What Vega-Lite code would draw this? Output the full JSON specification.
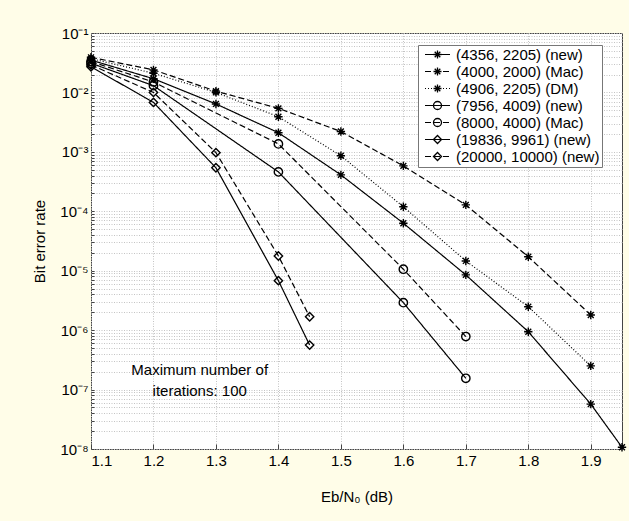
{
  "$schema": "https://vega.github.io/schema/vega-lite/v6.json",
  "width": 531,
  "height": 416,
  "autosize": {"type": "none"},
  "padding": {"left": 91, "top": 33, "right": 7, "bottom": 72},
  "background": "#fffde8",
  "config": {
    "view": {"fill": "white", "stroke": "#444", "strokeWidth": 1},
    "font": "Liberation Sans",
    "axis": {
      "labelFont": "Liberation Sans",
      "labelFontSize": 15,
      "labelColor": "black",
      "titleFont": "Liberation Sans",
      "titleFontSize": 15,
      "titleFontWeight": "normal",
      "titleColor": "black",
      "domain": false,
      "tickColor": "#444",
      "tickSize": -5,
      "gridColor": "#c4c4c4",
      "gridDash": [1, 1.5],
      "gridWidth": 1
    }
  },
  "data": {
    "values": [
      {"s": "(4356, 2205) (new)", "x": 1.1, "y": 0.035},
      {"s": "(4356, 2205) (new)", "x": 1.2, "y": 0.017},
      {"s": "(4356, 2205) (new)", "x": 1.3, "y": 0.0064},
      {"s": "(4356, 2205) (new)", "x": 1.4, "y": 0.0021},
      {"s": "(4356, 2205) (new)", "x": 1.5, "y": 0.00041},
      {"s": "(4356, 2205) (new)", "x": 1.6, "y": 0.000063},
      {"s": "(4356, 2205) (new)", "x": 1.7, "y": 0.0000085},
      {"s": "(4356, 2205) (new)", "x": 1.8, "y": 9.4e-7},
      {"s": "(4356, 2205) (new)", "x": 1.9, "y": 5.7e-8},
      {"s": "(4356, 2205) (new)", "x": 1.95, "y": 1.07e-8},
      {"s": "(4000, 2000) (Mac)", "x": 1.1, "y": 0.039},
      {"s": "(4000, 2000) (Mac)", "x": 1.2, "y": 0.024},
      {"s": "(4000, 2000) (Mac)", "x": 1.3, "y": 0.0105},
      {"s": "(4000, 2000) (Mac)", "x": 1.4, "y": 0.0054},
      {"s": "(4000, 2000) (Mac)", "x": 1.5, "y": 0.0022},
      {"s": "(4000, 2000) (Mac)", "x": 1.6, "y": 0.00058},
      {"s": "(4000, 2000) (Mac)", "x": 1.7, "y": 0.000128},
      {"s": "(4000, 2000) (Mac)", "x": 1.8, "y": 0.0000172},
      {"s": "(4000, 2000) (Mac)", "x": 1.9, "y": 0.0000018},
      {"s": "(4906, 2205) (DM)", "x": 1.1, "y": 0.037},
      {"s": "(4906, 2205) (DM)", "x": 1.2, "y": 0.021},
      {"s": "(4906, 2205) (DM)", "x": 1.3, "y": 0.01},
      {"s": "(4906, 2205) (DM)", "x": 1.4, "y": 0.0039},
      {"s": "(4906, 2205) (DM)", "x": 1.5, "y": 0.00086},
      {"s": "(4906, 2205) (DM)", "x": 1.6, "y": 0.000119},
      {"s": "(4906, 2205) (DM)", "x": 1.7, "y": 0.0000146},
      {"s": "(4906, 2205) (DM)", "x": 1.8, "y": 0.00000248},
      {"s": "(4906, 2205) (DM)", "x": 1.9, "y": 2.5e-7},
      {"s": "(7956, 4009) (new)", "x": 1.1, "y": 0.031},
      {"s": "(7956, 4009) (new)", "x": 1.2, "y": 0.013},
      {"s": "(7956, 4009) (new)", "x": 1.4, "y": 0.00046},
      {"s": "(7956, 4009) (new)", "x": 1.6, "y": 0.0000029},
      {"s": "(7956, 4009) (new)", "x": 1.7, "y": 1.55e-7},
      {"s": "(8000, 4000) (Mac)", "x": 1.1, "y": 0.033},
      {"s": "(8000, 4000) (Mac)", "x": 1.2, "y": 0.015},
      {"s": "(8000, 4000) (Mac)", "x": 1.4, "y": 0.00136},
      {"s": "(8000, 4000) (Mac)", "x": 1.6, "y": 0.0000106},
      {"s": "(8000, 4000) (Mac)", "x": 1.7, "y": 7.8e-7},
      {"s": "(19836, 9961) (new)", "x": 1.1, "y": 0.027},
      {"s": "(19836, 9961) (new)", "x": 1.2, "y": 0.0068},
      {"s": "(19836, 9961) (new)", "x": 1.3, "y": 0.00054},
      {"s": "(19836, 9961) (new)", "x": 1.4, "y": 0.0000068},
      {"s": "(19836, 9961) (new)", "x": 1.45, "y": 5.6e-7},
      {"s": "(20000, 10000) (new)", "x": 1.1, "y": 0.029},
      {"s": "(20000, 10000) (new)", "x": 1.2, "y": 0.01},
      {"s": "(20000, 10000) (new)", "x": 1.3, "y": 0.00097},
      {"s": "(20000, 10000) (new)", "x": 1.4, "y": 0.0000177},
      {"s": "(20000, 10000) (new)", "x": 1.45, "y": 0.00000168}
    ]
  },
  "encoding": {
    "x": {
      "field": "x",
      "type": "quantitative",
      "scale": {"domain": [1.1, 1.95], "nice": false, "zero": false},
      "axis": {
        "title": "Eb/N₀ (dB)",
        "values": [1.1, 1.2, 1.3, 1.4, 1.5, 1.6, 1.7, 1.8, 1.9],
        "format": ".1f",
        "labelPadding": 9,
        "titlePadding": 21,
        "labelOverlap": false
      }
    },
    "y": {
      "field": "y",
      "type": "quantitative",
      "scale": {"type": "log", "domain": [1e-8, 0.1], "nice": false},
      "axis": {
        "title": "Bit error rate",
        "values": [1e-8, 2e-8, 3e-8, 4e-8, 5e-8, 6e-8, 7e-8, 8e-8, 9e-8,
                   1e-7, 2e-7, 3e-7, 4e-7, 5e-7, 6e-7, 7e-7, 8e-7, 9e-7,
                   1e-6, 2e-6, 3e-6, 4e-6, 5e-6, 6e-6, 7e-6, 8e-6, 9e-6,
                   1e-5, 2e-5, 3e-5, 4e-5, 5e-5, 6e-5, 7e-5, 8e-5, 9e-5,
                   1e-4, 2e-4, 3e-4, 4e-4, 5e-4, 6e-4, 7e-4, 8e-4, 9e-4,
                   1e-3, 2e-3, 3e-3, 4e-3, 5e-3, 6e-3, 7e-3, 8e-3, 9e-3,
                   1e-2, 2e-2, 3e-2, 4e-2, 5e-2, 6e-2, 7e-2, 8e-2, 9e-2, 1e-1],
        "labelExpr": "abs(log(datum.value)/LN10 - round(log(datum.value)/LN10)) < 0.001 ? '10⁻' + ['⁰','¹','²','³','⁴','⁵','⁶','⁷','⁸','⁹'][-round(log(datum.value)/LN10)] : ''",
        "labelOverlap": false,
        "labelBound": false,
        "labelPadding": 6,
        "titlePadding": 12,
        "tickSize": -3
      }
    }
  },
  "layer": [
    {
      "mark": {"type": "line", "color": "black", "strokeWidth": 1.2},
      "encoding": {
        "strokeDash": {
          "field": "s",
          "type": "nominal",
          "scale": {
            "domain": ["(4356, 2205) (new)", "(4000, 2000) (Mac)", "(4906, 2205) (DM)", "(7956, 4009) (new)", "(8000, 4000) (Mac)", "(19836, 9961) (new)", "(20000, 10000) (new)"],
            "range": [[1, 0], [6, 3], [1, 2], [1, 0], [6, 3], [1, 0], [6, 3]]
          },
          "legend": {
            "title": null,
            "orient": "none",
            "legendX": 327,
            "legendY": 12,
            "direction": "vertical",
            "padding": 2,
            "fillColor": "white",
            "strokeColor": "#777",
            "symbolType": "stroke",
            "symbolSize": 625,
            "symbolStrokeWidth": 1.2,
            "symbolStrokeColor": "black",
            "symbolOffset": 4,
            "clipHeight": 15,
            "rowPadding": 1,
            "labelFont": "Liberation Sans",
            "labelFontSize": 15,
            "labelOffset": 5,
            "labelColor": "black",
            "labelLimit": 300
          }
        }
      }
    },
    {
      "mark": {"type": "point", "filled": false, "color": "black", "size": 70, "strokeWidth": 1.4, "opacity": 1},
      "encoding": {
        "shape": {
          "field": "s",
          "type": "nominal",
          "sort": ["(4356, 2205) (new)", "(4000, 2000) (Mac)", "(4906, 2205) (DM)", "(7956, 4009) (new)", "(8000, 4000) (Mac)", "(19836, 9961) (new)", "(20000, 10000) (new)"],
          "scale": {
            "range": [
              "M0,-1V1M-1,0H1M-0.7,-0.7L0.7,0.7M-0.7,0.7L0.7,-0.7",
              "M0,-1V1M-1,0H1M-0.7,-0.7L0.7,0.7M-0.7,0.7L0.7,-0.7",
              "M0,-1V1M-1,0H1M-0.7,-0.7L0.7,0.7M-0.7,0.7L0.7,-0.7",
              "circle", "circle", "diamond", "diamond"
            ]
          },
          "legend": {
            "title": null,
            "orient": "none",
            "legendX": 337,
            "legendY": 12,
            "direction": "vertical",
            "padding": 2,
            "symbolSize": 64,
            "symbolStrokeWidth": 1.3,
            "symbolStrokeColor": "black",
            "symbolFillColor": "transparent",
            "clipHeight": 15,
            "rowPadding": 1,
            "labelFont": "Liberation Sans",
            "labelFontSize": 15,
            "labelExpr": "' '",
            "labelLimit": 300
          }
        }
      }
    },
    {
      "data": {"values": [{"x": 1.274, "y": 2.1e-7}]},
      "mark": {"type": "text", "text": ["Maximum number of", "iterations: 100"], "font": "Liberation Sans", "fontSize": 15, "lineHeight": 21, "align": "center", "baseline": "middle", "color": "black"},
      "encoding": {
        "x": {"field": "x", "type": "quantitative"},
        "y": {"field": "y", "type": "quantitative"}
      }
    }
  ]
}
